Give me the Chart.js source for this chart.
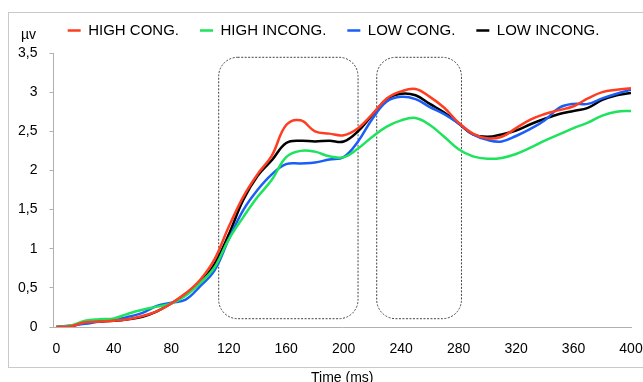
<!DOCTYPE html>
<html lang="en">
<head>
<meta charset="UTF-8">
<title>ERP waveforms</title>
<script src="https://cdn.jsdelivr.net/npm/chart.js"></script>
<style>
    body { margin: 0; padding: 0; background: #fff; }
    .wrap { position: relative; width: 643px; height: 382px; overflow: hidden; }
    .frame { position: absolute; left: 8px; top: 12px; width: 645px; height: 354px; border: 1px solid #c9c9c9; }
    canvas { position: absolute; left: 0; top: 0; }
</style>
</head>
<body>
<div class="wrap">
    <div class="frame"></div>
    <canvas id="erpChart" width="643" height="382"></canvas>
</div>
<script>
// time points (ms)
const timeMs = [0, 10, 20, 30, 40, 50, 60, 70, 80, 90, 100, 110, 120, 130, 140, 150, 160, 170, 180, 190, 200,
    210, 220, 230, 240, 250, 260, 270, 280, 290, 300, 310, 320, 330, 340, 350, 360, 370, 380, 390, 400];

// amplitudes (µV) per condition
const highCong = [0, 0.01, 0.06, 0.07, 0.08, 0.10, 0.14, 0.20, 0.30, 0.43, 0.60, 0.86, 1.28, 1.66, 1.95, 2.19, 2.58, 2.64, 2.50, 2.47, 2.45,
    2.54, 2.72, 2.92, 3.01, 3.04, 2.94, 2.80, 2.61, 2.47, 2.41, 2.43, 2.54, 2.65, 2.72, 2.77, 2.82, 2.92, 3.00, 3.03, 3.05];
const highIncong = [0, 0.02, 0.08, 0.10, 0.11, 0.17, 0.22, 0.26, 0.30, 0.40, 0.56, 0.76, 1.12, 1.40, 1.66, 1.88, 2.17, 2.25, 2.24, 2.18, 2.17,
    2.28, 2.43, 2.56, 2.64, 2.67, 2.58, 2.43, 2.27, 2.18, 2.15, 2.16, 2.21, 2.29, 2.38, 2.46, 2.54, 2.61, 2.70, 2.75, 2.76];
const lowCong = [0, 0.02, 0.04, 0.07, 0.09, 0.13, 0.18, 0.27, 0.31, 0.35, 0.52, 0.72, 1.12, 1.49, 1.75, 1.95, 2.08, 2.09, 2.10, 2.14, 2.17,
    2.37, 2.66, 2.88, 2.94, 2.91, 2.81, 2.72, 2.60, 2.46, 2.39, 2.37, 2.44, 2.53, 2.64, 2.80, 2.85, 2.85, 2.92, 2.98, 3.03];
const lowIncong = [0, 0.01, 0.06, 0.07, 0.08, 0.10, 0.13, 0.20, 0.30, 0.42, 0.57, 0.80, 1.18, 1.62, 1.93, 2.13, 2.35, 2.38, 2.37, 2.38, 2.37,
    2.50, 2.71, 2.91, 2.98, 2.96, 2.85, 2.74, 2.60, 2.46, 2.43, 2.46, 2.51, 2.59, 2.66, 2.72, 2.76, 2.80, 2.90, 2.96, 2.99];

const xTicks = [0, 40, 80, 120, 160, 200, 240, 280, 320, 360, 400];
const yTicks = [0, 0.5, 1, 1.5, 2, 2.5, 3, 3.5];

// analysis windows (ms), drawn as dashed rounded boxes
const windows = [[113, 210], [223, 282]];
const windowRange = [0.106, 3.445];

function points(values) {
    return values.map((v, i) => ({ x: timeMs[i], y: v }));
}

const FONT = "'Liberation Sans', Arial, sans-serif";

function roundRect(ctx, x, y, w, h, r) {
    ctx.beginPath();
    ctx.moveTo(x + r, y);
    ctx.arcTo(x + w, y, x + w, y + h, r);
    ctx.arcTo(x + w, y + h, x, y + h, r);
    ctx.arcTo(x, y + h, x, y, r);
    ctx.arcTo(x, y, x + w, y, r);
    ctx.closePath();
}

const windowBoxes = {
    id: 'windowBoxes',
    beforeInit(chart) {
        // fixed legend band height so the plot starts where the original does
        const fit = chart.legend.fit;
        chart.legend.fit = function () {
            fit.bind(chart.legend)();
            this.height = 51;
        };
    },
    afterLayout(chart) {
        // legend sits a little right of centre in the original
        chart.legend.left += 9;
        chart.legend.right += 9;
    },
    beforeDatasetsDraw(chart) {
        const { ctx, scales: { x, y } } = chart;
        ctx.save();
        ctx.strokeStyle = '#444';
        ctx.lineWidth = 1;
        ctx.setLineDash([2, 1.5]);
        windows.forEach(w => {
            const left = x.getPixelForValue(w[0]);
            const right = x.getPixelForValue(w[1]);
            const top = y.getPixelForValue(windowRange[1]);
            const bottom = y.getPixelForValue(windowRange[0]);
            roundRect(ctx, left, top, right - left, bottom - top, 19);
            ctx.stroke();
        });
        ctx.restore();
    },
    afterDraw(chart) {
        const { ctx, chartArea } = chart;
        ctx.save();
        ctx.fillStyle = '#000';
        ctx.font = '14px ' + FONT;
        ctx.textAlign = 'center';
        ctx.textBaseline = 'middle';
        ctx.fillText('µv', chartArea.left - 25, 35);
        ctx.restore();
    }
};

function series(label, values, color) {
    return {
        label: label,
        data: points(values),
        borderColor: color,
        backgroundColor: color,
        borderWidth: 2.5,
        pointRadius: 0,
        tension: 0.4,
        fill: false
    };
}

new Chart(document.getElementById('erpChart'), {
    type: 'line',
    data: {
        datasets: [
            series('HIGH CONG.', highCong, '#ff3d21'),
            series('HIGH INCONG.', highIncong, '#1ee35c'),
            series('LOW CONG.', lowCong, '#1b5ef7'),
            series('LOW INCONG.', lowIncong, '#000000')
        ]
    },
    options: {
        responsive: false,
        animation: false,
        layout: { padding: { left: 6, right: 0, top: 2, bottom: -3 } },
        plugins: {
            tooltip: { enabled: false },
            legend: {
                position: 'top',
                labels: {
                    font: { family: FONT, size: 15 },
                    color: '#000',
                    boxWidth: 13,
                    boxHeight: 0,
                    padding: 21
                }
            }
        },
        scales: {
            x: {
                type: 'linear',
                min: -2,
                max: 400,
                afterBuildTicks: axis => { axis.ticks = xTicks.map(v => ({ value: v })); },
                afterFit: axis => { axis.paddingRight = 12; axis.paddingLeft = 0; },
                grid: { display: false, drawTicks: false },
                border: { display: true, color: '#b0b0b0', width: 1 },
                ticks: {
                    font: { family: FONT, size: 14, lineHeight: 1 },
                    color: '#000',
                    padding: 15,
                    maxRotation: 0
                },
                title: {
                    display: true,
                    text: 'Time (ms)',
                    font: { family: FONT, size: 14, lineHeight: 1 },
                    color: '#000',
                    padding: { top: 0, bottom: 0 }
                }
            },
            y: {
                min: 0,
                max: 3.5,
                afterBuildTicks: axis => { axis.ticks = yTicks.map(v => ({ value: v })); },
                grid: { display: true, drawOnChartArea: false, drawTicks: true, tickLength: 4, color: '#b0b0b0' },
                border: { display: true, color: '#b0b0b0', width: 1 },
                ticks: {
                    font: { family: FONT, size: 14 },
                    color: '#000',
                    padding: 12,
                    callback: v => String(v).replace('.', ',')
                }
            }
        }
    },
    plugins: [windowBoxes]
});
</script>
</body>
</html>
